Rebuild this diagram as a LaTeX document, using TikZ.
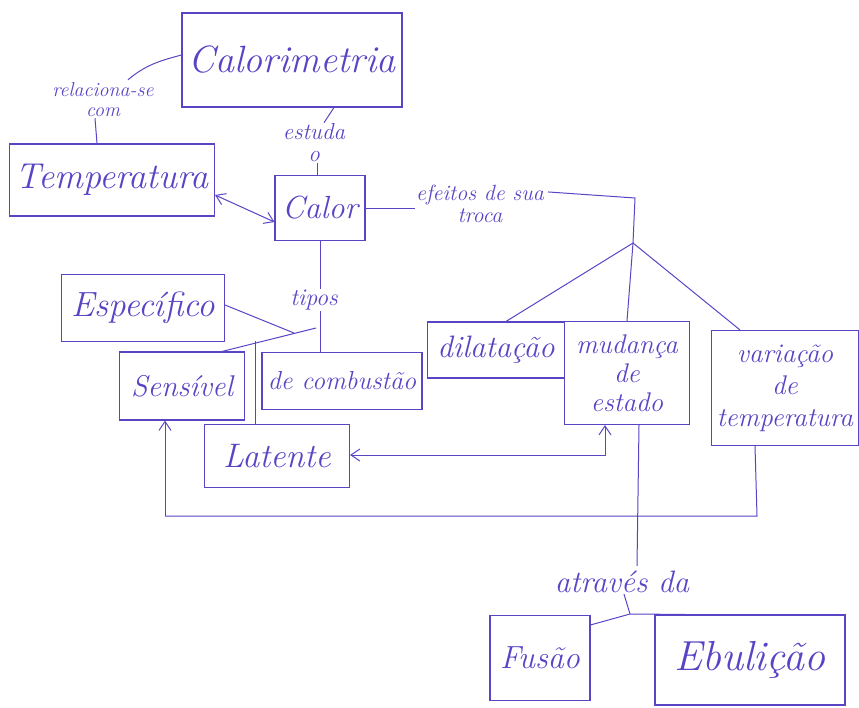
\documentclass[tikz,border=0pt]{standalone}
\usetikzlibrary{arrows.meta,calc}
\definecolor{ink}{RGB}{88,68,196}
\begin{document}
\begin{tikzpicture}[x=1pt,y=-1pt,
  every node/.style={text=ink},
  box/.style={draw=ink, line width=1.1pt, inner sep=1pt, align=center},
  lbl/.style={align=center, inner sep=1pt},
  con/.style={draw=ink, line width=1pt},
  arr/.style={con, -{Straight Barb[length=9pt,width=12pt]}},
  darr/.style={con, {Straight Barb[length=9pt,width=12pt]}-{Straight Barb[length=9pt,width=12pt]}}]
\useasboundingbox (0,0) rectangle (859,707);
% boxes
\node[box, minimum width=220pt, minimum height=94pt, font=\fontsize{38}{42}\selectfont\itshape] (calo) at (292,60) {Calorimetria};
\node[box, minimum width=205pt, minimum height=72pt, font=\fontsize{36}{40}\selectfont\itshape] (temp) at (112,180) {Temperatura};
\node[box, minimum width=90pt, minimum height=65pt, font=\fontsize{32}{36}\selectfont\itshape] (calor) at (320,208) {Calor};
\node[box, minimum width=163pt, minimum height=67pt, font=\fontsize{35}{38}\selectfont\itshape] (espec) at (143,308) {Específico};
\node[box, minimum width=125pt, minimum height=68pt, font=\fontsize{30}{34}\selectfont\itshape] (sens) at (182,386) {Sensível};
\node[box, minimum width=160pt, minimum height=57pt, font=\fontsize{26}{30}\selectfont\itshape] (comb) at (342,381) {de combustão};
\node[box, minimum width=145pt, minimum height=63pt, font=\fontsize{34}{38}\selectfont\itshape] (lat) at (277,456) {Latente};
\node[box, minimum width=137pt, minimum height=56pt, font=\fontsize{31}{34}\selectfont\itshape] (dil) at (496,350) {dilatação};
\node[box, minimum width=125pt, minimum height=103pt, font=\fontsize{27}{29}\selectfont\itshape] (mud) at (627,373) {mudança\\de\\estado};
\node[box, minimum width=147pt, minimum height=115pt, font=\fontsize{27}{32}\selectfont\itshape] (var) at (785,388) {variação\\de\\temperatura};
\node[box, minimum width=100pt, minimum height=85pt, font=\fontsize{32}{36}\selectfont\itshape] (fus) at (540,658) {Fusão};
\node[box, minimum width=190pt, minimum height=90pt, font=\fontsize{42}{46}\selectfont\itshape] (ebu) at (750,660) {Ebulição};
% labels
\node[lbl, font=\fontsize{20}{20}\selectfont\itshape] (relac) at (103,100) {relaciona-se\\com};
\node[lbl, font=\fontsize{23}{22}\selectfont\itshape] (estuda) at (314,143) {estuda\\o};
\node[lbl, font=\fontsize{22}{22}\selectfont\itshape] (efeitos) at (480,204) {efeitos de sua\\troca};
\node[lbl, font=\fontsize{24}{24}\selectfont\itshape] (tipos) at (314,300) {tipos};
\node[lbl, font=\fontsize{31}{32}\selectfont\itshape] (atraves) at (622,582) {através da};
% junction coordinates
\coordinate (ej) at (635,198);
\coordinate (ejb) at (633,243);
\coordinate (tj) at (316,328);
\coordinate (tlat) at (255,341);
\coordinate (lm) at (605,455);
\coordinate (vr) at (757,516);
\coordinate (sv) at (165,516);
\coordinate (aj) at (630,614);
% connectors
\draw[con] (calo.west) ++(0,-5) to[out=195,in=40] ($(relac.north)+(25,-2)$);
\draw[con] ($(relac.south)+(-8,0)$) -- ($(temp.north)+(-15,0)$);
\draw[con] (calo.south) ++(42,0) -- ($(estuda.north)+(10,0)$);
\draw[con] ($(estuda.south)+(3,0)$) -- ($(calor.north)+(-3,0)$);
\draw[darr] ($(temp.east)+(0,15)$) -- ($(calor.west)+(0,14)$);
\draw[con] (calor.east) -- (efeitos.west |- calor.east);
\draw[con] ($(efeitos.north east)+(3,8)$) -- (ej) -- (ejb);
\draw[con] (ejb) -- ($(dil.north)+(10,0)$);
\draw[con] (ejb) -- (mud.north);
\draw[con] (ejb) -- ($(var.north)+(-45,0)$);
\draw[con] (calor.south) -- (tipos.north -| calor.south);
\draw[con] (tipos.south -| calor.south) -- (comb.north -| calor.south);
\draw[con] (tj) -- ($(sens.north)+(40,0)$);
\draw[con] ($(espec.east)+(0,-3)$) -- ($(tj)+(-22,5)$);
\draw[con] (tlat) -- (lat.north -| tlat);
\draw[darr] (lat.east |- lm) -- (lm) -- (mud.south -| lm);
\draw[con] ($(var.south)+(-30,0)$) -- (vr) -- (sv);
\draw[arr] (sv) -- (sens.south -| sv);
\draw[con] ($(mud.south)+(12,0)$) -- ($(atraves.north)+(15,-4)$);
\draw[con] ($(atraves.south)+(2,0)$) -- (aj);
\draw[con] (aj) -- ($(fus.north east)+(0,10)$);
\draw[con] (aj) -- ($(ebu.north)+(-65,0)$);
\end{tikzpicture}
\end{document}
